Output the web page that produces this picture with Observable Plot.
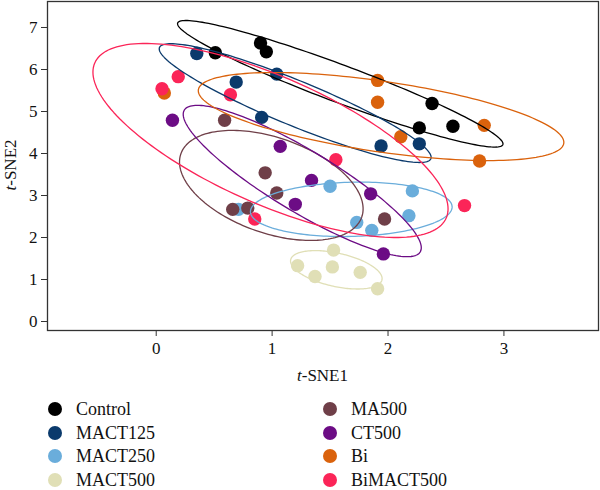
<!DOCTYPE html>
<html>
<head>
<meta charset="utf-8">
<script src="https://cdn.jsdelivr.net/npm/d3@7"></script>
<script src="https://cdn.jsdelivr.net/npm/@observablehq/plot@0.6"></script>
<style>
  body { margin: 0; background: #fff; font-family: "Liberation Serif", "Times New Roman", "DejaVu Serif", serif; }
  #wrap { position: relative; width: 600px; height: 490px; overflow: hidden; }
  #chart svg text { font-family: "Liberation Serif", "Times New Roman", "DejaVu Serif", serif !important; }
  #legend { position: absolute; left: 0; top: 390px; width: 600px; height: 100px; }
  .item { position: absolute; display: flex; align-items: center; font-size: 18px; color: #111; line-height: 16px; height: 16px;
          font-family: "Liberation Serif", "Times New Roman", "DejaVu Serif", serif; }
  .sw { width: 14px; height: 14px; border-radius: 50%; margin-right: 14px; }
</style>
</head>
<body>
<div id="wrap"><div id="chart"></div><div id="legend"></div></div>
<script>
// Groups and colours
const groups = ["Control", "MACT125", "MACT250", "MACT500", "MA500", "CT500", "Bi", "BiMACT500"];
const colors = ["#000000", "#0b3a6c", "#6aaddb", "#e0dfb6", "#6f3f48", "#6c0c85", "#da620c", "#fb2558"];

// Points (t-SNE1, t-SNE2) per group
const controlX = [0.51, 0.90, 0.95, 2.38, 2.27, 2.56];
const controlY = [6.40, 6.63, 6.42, 5.19, 4.61, 4.65];
const mact125X = [0.35, 0.69, 1.04, 0.91, 1.94, 2.27];
const mact125Y = [6.38, 5.70, 5.89, 4.86, 4.18, 4.23];
const mact250X = [0.71, 1.50, 2.21, 2.18, 1.73, 1.86];
const mact250Y = [2.67, 3.22, 3.11, 2.52, 2.36, 2.17];
const mact500X = [1.53, 1.22, 1.52, 1.37, 1.76, 1.91];
const mact500Y = [1.70, 1.33, 1.30, 1.07, 1.17, 0.78];
const ma500X = [0.59, 0.94, 1.04, 0.66, 0.79, 1.97];
const ma500Y = [4.79, 3.54, 3.06, 2.67, 2.70, 2.44];
const ct500X = [0.14, 1.07, 1.34, 1.85, 1.20, 1.96];
const ct500Y = [4.79, 4.17, 3.36, 3.04, 2.79, 1.61];
const biX = [0.07, 1.91, 1.91, 2.11, 2.83, 2.79];
const biY = [5.44, 5.74, 5.22, 4.40, 4.67, 3.82];
const bimact500X = [0.19, 0.05, 0.64, 1.55, 0.85, 2.66];
const bimact500Y = [5.83, 5.54, 5.40, 3.85, 2.44, 2.76];

// Confidence ellipses per group (centre, x half-width, y half-height, phase in degrees)
const ellCx = [1.588, 1.199, 1.683, 1.554, 0.993, 1.260, 1.940, 0.986];
const ellCy = [5.66, 5.20, 2.671, 1.231, 3.24, 3.345, 4.88, 4.31];
const ellRx = [1.404, 1.173, 0.870, 0.395, 0.792, 1.027, 1.577, 1.532];
const ellRy = [1.507, 1.414, 0.648, 0.457, 1.31, 1.802, 1.048, 2.31];
const ellPhase = [161.6, 155.9, 85, 117.3, 115.2, 151.8, 125.9, 134.8];

// Axis ticks
const xTicks = [0, 1, 2, 3];
const yTicks = [0, 1, 2, 3, 4, 5, 6, 7];

const xs = [controlX, mact125X, mact250X, mact500X, ma500X, ct500X, biX, bimact500X];
const ys = [controlY, mact125Y, mact250Y, mact500Y, ma500Y, ct500Y, biY, bimact500Y];

const points = [];
groups.forEach((g, i) => xs[i].forEach((x, j) => points.push({group: g, x, y: ys[i][j]})));

const ellipses = [];
groups.forEach((g, i) => {
  const ph = ellPhase[i] * Math.PI / 180;
  for (let k = 0; k <= 180; k++) {
    const t = k / 180 * 2 * Math.PI;
    ellipses.push({group: g, x: ellCx[i] + ellRx[i] * Math.cos(t), y: ellCy[i] + ellRy[i] * Math.cos(t + ph)});
  }
});

const serif = "'Liberation Serif', 'Times New Roman', 'DejaVu Serif', serif";

const chart = Plot.plot({
  width: 600,
  height: 390,
  marginTop: 1,
  marginLeft: 47,
  marginRight: 2,
  marginBottom: 60,
  style: {fontFamily: serif, fontSize: "17px", color: "#111", background: "#fff"},
  x: {domain: [-0.938, 3.816]},
  y: {domain: [-0.214, 7.619]},
  color: {domain: groups, range: colors},
  marks: [
    Plot.dot(points, {x: "x", y: "y", fill: "group", r: 6.7, stroke: null}),
    Plot.line(ellipses, {x: "x", y: "y", z: "group", stroke: "group", strokeWidth: 1.3, curve: "linear"}),
    Plot.frame({stroke: "#333", strokeWidth: 1.3}),
    Plot.axisX({ticks: xTicks, tickSize: 6, tickPadding: 5, label: null, tickFormat: d => String(d), stroke: "#333", fontSize: 17}),
    Plot.axisY({ticks: yTicks, tickSize: 6, tickPadding: 4, label: null, tickFormat: d => String(d), stroke: "#333", fontSize: 17})
  ]
});
document.getElementById("chart").appendChild(chart);

// Axis titles with italic "t"
const svg = d3.select(chart);
const xl = svg.append("text").attr("x", 322.5).attr("y", 381).attr("text-anchor", "middle")
  .attr("font-family", serif).attr("font-size", 17).attr("fill", "#111");
xl.append("tspan").attr("font-style", "italic").text("t");
xl.append("tspan").text("-SNE1");
const yl = svg.append("text").attr("transform", "translate(16,165) rotate(-90)").attr("text-anchor", "middle")
  .attr("font-family", serif).attr("font-size", 17).attr("fill", "#111");
yl.append("tspan").attr("font-style", "italic").text("t");
yl.append("tspan").text("-SNE2");

// Legend
const legend = document.getElementById("legend");
groups.forEach((g, i) => {
  const col = Math.floor(i / 4), row = i % 4;
  const d = document.createElement("div");
  d.className = "item";
  d.style.left = (48 + col * 275) + "px";
  d.style.top = (11 + row * 23.5) + "px";
  const sw = document.createElement("span");
  sw.className = "sw";
  sw.style.background = colors[i];
  const tx = document.createElement("span");
  tx.textContent = g;
  d.appendChild(sw); d.appendChild(tx);
  legend.appendChild(d);
});
</script>
</body>
</html>
